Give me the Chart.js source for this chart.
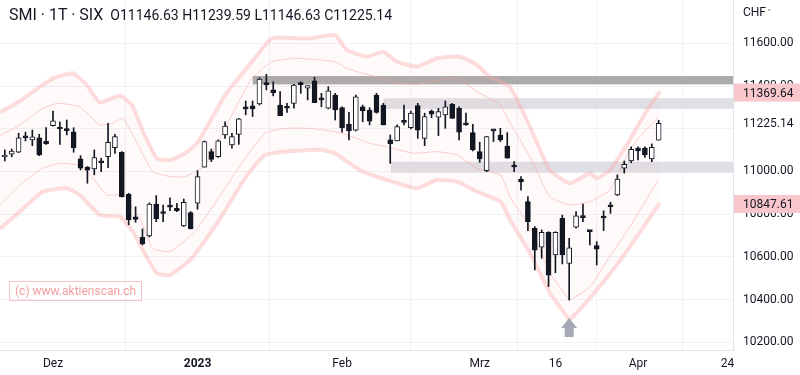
<!DOCTYPE html>
<html>
<head>
<meta charset="utf-8">
<script src="https://cdn.jsdelivr.net/npm/chart.js@4.4.0/dist/chart.umd.min.js"></script>
<style>
  body { margin: 0; background: #fff; font-family: Roboto, "Noto Sans", sans-serif; }
  #rahmen { position: relative; width: 800px; height: 375px; }
  #kopf { position: absolute; left: 9px; top: 5px; color: #131722; white-space: nowrap; }
  #kopf .titel { font-size: 16px; }
  #kopf .ohlc { font-size: 14px; margin-left: 7px; }
  #chf { position: absolute; left: 743px; top: 5px; font-size: 12px; color: #131722; }
  #chf span { font-size: 9px; margin-left: 2px; }
  #wasserzeichen { position: absolute; left: 9px; top: 281px; padding: 1px 5px; border: 1px solid #f6c2c2;
    color: #f29e9e; font-size: 12px; line-height: 16px; }
</style>
</head>
<body>
<div id="rahmen">
  <canvas id="grafik" width="800" height="375"></canvas>
  <div id="kopf"><span class="titel">SMI · 1T · SIX</span><span class="ohlc">O11146.63 H11239.59 L11146.63 C11225.14</span></div>
  <div id="chf">CHF<span>&#x2C5;</span></div>
  <div id="wasserzeichen">(c) www.aktienscan.ch</div>
</div>
<script>
// Handelstage: Index 0 = 1. Dez 2022, erste Kerze bei -7
const ersterIndex = -7;

const eroeffnung = [11068, 11081, 11090, 11158, 11148, 11158, 11141, 11214, 11204, 11194, 11186, 11059, 11021, 11012,
  11041, 11069, 11111, 11090, 10893, 10788, 10692, 10698, 10847, 10805, 10833, 10828, 10745, 10807, 10851, 11020,
  11093, 11069, 11171, 11124, 11174, 11303, 11307, 11316, 11416, 11382, 11311, 11299, 11319, 11407, 11390, 11424,
  11340, 11296, 11358, 11299, 11222, 11193, 11303, 11288, 11358, 11311, 11148, 11143, 11233, 11205, 11308, 11155,
  11283, 11254, 11265, 11315, 11296, 11220, 11182, 11093, 11004, 11194, 11171, 11119, 11023, 10964, 10859, 10734,
  10645, 10715, 10609, 10781, 10570, 10739, 10788, 10721, 10653, 10782, 10840, 10890, 11015, 11049, 11109, 11109,
  11059, 11146.63];
const hoch = [11101, 11105, 11179, 11184, 11194, 11174, 11205, 11283, 11233, 11241, 11205, 11074, 11023, 11101,
  11062, 11226, 11174, 11093, 10898, 10835, 10731, 10853, 10887, 10843, 10877, 10851, 10871, 10812, 11004, 11143,
  11105, 11148, 11233, 11179, 11249, 11330, 11330, 11439, 11455, 11420, 11374, 11319, 11408, 11420, 11402, 11441,
  11366, 11397, 11366, 11303, 11277, 11358, 11311, 11299, 11366, 11319, 11171, 11218, 11311, 11283, 11319, 11273,
  11288, 11296, 11330, 11319, 11303, 11273, 11221, 11137, 11165, 11196, 11202, 11182, 11046, 10976, 10882, 10742,
  10726, 10718, 10718, 10796, 10687, 10812, 10847, 10722, 10671, 10816, 10856, 10984, 11049, 11116, 11116, 11116,
  11129, 11239.59];
const tief = [11049, 11069, 11088, 11143, 11121, 11074, 11127, 11212, 11127, 11171, 11090, 11007, 10945, 10984,
  10999, 11018, 11085, 10880, 10750, 10762, 10656, 10693, 10765, 10765, 10817, 10812, 10742, 10731, 10823, 11020,
  11046, 11066, 11155, 11109, 11127, 11265, 11257, 11311, 11382, 11354, 11261, 11277, 11296, 11366, 11335, 11322,
  11303, 11293, 11241, 11184, 11148, 11190, 11233, 11218, 11273, 11218, 11038, 11143, 11218, 11199, 11155, 11121,
  11252, 11168, 11202, 11249, 11148, 11216, 11096, 11043, 10999, 11140, 11140, 11062, 10999, 10913, 10723, 10539,
  10594, 10461, 10526, 10567, 10398, 10734, 10765, 10656, 10562, 10723, 10804, 10887, 10992, 11041, 11054, 11066,
  11046, 11146.63];
const schluss = [11077, 11096, 11158, 11163, 11162, 11077, 11129, 11237, 11199, 11191, 11111, 11015, 11006, 11065,
  11046, 11137, 11163, 10882, 10773, 10776, 10661, 10847, 10778, 10803, 10839, 10817, 10856, 10731, 10976, 11140,
  11057, 11143, 11213, 11163, 11246, 11293, 11293, 11433, 11405, 11369, 11261, 11296, 11405, 11412, 11402, 11322,
  11335, 11378, 11288, 11205, 11190, 11350, 11283, 11236, 11277, 11218, 11130, 11210, 11230, 11273, 11194, 11257,
  11268, 11280, 11303, 11249, 11184, 11218, 11101, 11059, 11163, 11190, 11148, 11062, 11021, 10951, 10765, 10632,
  10715, 10515, 10715, 10609, 10643, 10792, 10784, 10718, 10636, 10786, 10835, 10964, 11034, 11104, 11096, 11077,
  11113, 11225.14];

// Bänder (Index, Kurs)
const bandObenAussen = [[-7.7, 11277], [-4.8, 11330], [-2.9, 11374], [0, 11436], [2.9, 11460], [4.9, 11405],
  [6.8, 11324], [9.7, 11355], [11.5, 11311], [13.1, 11186], [15.1, 11062], [17, 11054], [19.2, 11085],
  [21.1, 11140], [25, 11358], [28.9, 11514], [31.8, 11624], [35.6, 11624], [37.6, 11624], [41, 11639],
  [42.7, 11569], [45.6, 11538], [48, 11561], [50, 11514], [52.9, 11491], [55.8, 11530], [59.1, 11538],
  [61.6, 11499], [63.5, 11442], [66.4, 11397], [69.3, 11210], [72.2, 11007], [75.1, 10945], [78, 10992],
  [79, 10968], [80.9, 11007], [83.8, 11148], [86.3, 11288], [88.2, 11374]];
const bandObenInnen = [[-7.7, 11168], [-4.8, 11218], [-1.5, 11296], [0.7, 11319], [3.9, 11303], [6.8, 11218],
  [8.7, 11226], [10.2, 11249], [12.6, 11109], [14.5, 10999], [17, 10976], [19.2, 10976], [22.1, 11030],
  [26, 11265], [28.9, 11436], [31.8, 11514], [35.6, 11530], [41, 11514], [42.7, 11483], [45, 11460],
  [48, 11436], [50, 11413], [52.9, 11408], [56.2, 11428], [58.7, 11436], [61.6, 11374], [65, 11311],
  [66.4, 11226], [69.3, 11069], [72.2, 10882], [75.1, 10843], [78, 10859], [80.9, 10913], [83.8, 11101],
  [86.3, 11202], [87.9, 11249]];
const bandUntenInnen = [[-7.7, 10843], [-4.8, 10937], [-1.5, 11015], [1, 11038], [3.5, 11030], [5.4, 10984],
  [7.8, 10890], [10.2, 10890], [12.6, 10781], [14.5, 10640], [17, 10625], [20.6, 10718], [24, 10875],
  [27.9, 11062], [30.8, 11179], [33.7, 11202], [37.1, 11202], [41, 11186], [42.7, 11171], [46.1, 11132],
  [48.5, 11116], [52.3, 11085], [55.8, 11093], [58.7, 11077], [61.6, 11015], [65, 10984], [66.4, 10881],
  [69.3, 10740], [72.2, 10525], [74.7, 10412], [75.1, 10398], [78, 10459], [79.9, 10553], [83.8, 10740],
  [87.9, 10960]];
const bandUntenAussen = [[-7.7, 10731], [-4.8, 10812], [-1.5, 10905], [2, 10921], [3.9, 10890], [6.8, 10796],
  [9.7, 10788], [11.6, 10718], [13.7, 10594], [15.1, 10523], [17, 10515], [20.2, 10594], [24, 10765],
  [27.9, 10968], [30.8, 11077], [34.7, 11096], [39.1, 11101], [41, 11085], [42.7, 11046], [45, 10999],
  [48.5, 10960], [52.9, 10921], [55.8, 10960], [58.7, 10952], [61.6, 10905], [65, 10859], [66.4, 10773],
  [69.3, 10618], [72.2, 10431], [74.7, 10319], [75.1, 10305], [79, 10445], [82.8, 10600], [88.2, 10853]];

// Zonen (Beginn-Index, Ober- und Untergrenze)
const zonenStart = [29, 48, 49.1];
const zonenOben = [11447, 11343, 11046];
const zonenUnten = [11408, 11293, 10994];

// Kursmarken an der Achse
const marken = [11369.64, 11225.14, 10847.61];
const pfeilIndex = 75;

const xTicks = [0, 21, 42, 62, 73, 85, 98];
const xTickTexte = ['Dez', '2023', 'Feb', 'Mrz', '16', 'Apr', '24'];
const yTicks = [10200, 10400, 10600, 10800, 11000, 11200, 11400, 11600];

const schwarz = '#131722';
const koerper = eroeffnung.map((o, k) => ({ x: ersterIndex + k, y: [o, schluss[k]] }));
const dochte = hoch.map((h, k) => ({ x: ersterIndex + k, y: [tief[k], h] }));
const fuellung = eroeffnung.map((o, k) => {
    const c = schluss[k];
    if (Math.abs(c - o) < 8 || c < o) return schwarz;
    return '#ffffff';
});
const punkte = arr => arr.map(p => ({ x: p[0], y: p[1] }));

const zonenFarben = ['#ababab', '#dfe0e5', '#dfe0e5'];
const markenFarben = ['#f9c6cb', '#ffffff', '#f9c6cb'];

const zusatz = {
    id: 'zusatz',
    beforeDatasetsDraw(chart) {
        const { ctx, chartArea, scales: { x, y } } = chart;
        ctx.save();
        zonenStart.forEach((s, k) => {
            const links = x.getPixelForValue(s);
            const oben = y.getPixelForValue(zonenOben[k]);
            const unten = y.getPixelForValue(zonenUnten[k]);
            ctx.fillStyle = zonenFarben[k];
            ctx.fillRect(links, oben, chartArea.right - links, unten - oben);
        });
        ctx.restore();
    },
    afterDraw(chart) {
        const { ctx, chartArea, scales: { x, y } } = chart;
        ctx.save();
        // Pfeil unter dem Tief
        const px = x.getPixelForValue(pfeilIndex);
        const py = y.getPixelForValue(tief[pfeilIndex - ersterIndex]) + 18;
        ctx.fillStyle = '#a5a8b6';
        ctx.beginPath();
        ctx.moveTo(px, py);
        ctx.lineTo(px + 8, py + 10);
        ctx.lineTo(px - 8, py + 10);
        ctx.closePath();
        ctx.fill();
        ctx.fillRect(px - 4.5, py + 10, 9, 9);
        // Kursmarken
        ctx.font = '12px Roboto, "Noto Sans", sans-serif';
        ctx.textBaseline = 'middle';
        marken.forEach((m, k) => {
            const my = y.getPixelForValue(m);
            ctx.fillStyle = markenFarben[k];
            ctx.fillRect(chartArea.right + 1, my - 9, 800 - chartArea.right, 18);
            ctx.fillStyle = schwarz;
            ctx.fillText(m.toFixed(2), chartArea.right + 10, my + 1);
        });
        ctx.restore();
    }
};

const aussenLinie = 'rgba(250,170,170,0.4)';
const innenLinie = 'rgba(245,160,160,0.5)';

new Chart(document.getElementById('grafik'), {
    type: 'bar',
    data: {
        datasets: [
            {
                data: koerper, backgroundColor: fuellung, borderColor: schwarz, borderWidth: 1,
                borderSkipped: false, barThickness: 5, minBarLength: 2, grouped: false, order: 0
            },
            {
                data: dochte, backgroundColor: schwarz, borderWidth: 0, barThickness: 1,
                grouped: false, order: 1
            },
            {
                type: 'line', data: punkte(bandObenAussen), borderColor: aussenLinie,
                borderWidth: 4, pointRadius: 0, tension: 0.15, fill: false, order: 2
            },
            {
                type: 'line', data: punkte(bandUntenAussen), borderColor: aussenLinie,
                borderWidth: 4, pointRadius: 0, tension: 0.15, fill: '-1',
                backgroundColor: 'rgba(255,160,160,0.05)', order: 3
            },
            {
                type: 'line', data: punkte(bandObenInnen), borderColor: innenLinie,
                borderWidth: 1, pointRadius: 0, tension: 0.15, fill: false, order: 4
            },
            {
                type: 'line', data: punkte(bandUntenInnen), borderColor: innenLinie,
                borderWidth: 1, pointRadius: 0, tension: 0.15, fill: false, order: 5
            }
        ]
    },
    options: {
        responsive: false,
        animation: false,
        layout: { padding: 0 },
        plugins: { legend: { display: false }, tooltip: { enabled: false } },
        scales: {
            x: {
                type: 'linear', min: -7.7, max: 98.8, offset: false,
                afterBuildTicks: s => { s.ticks = xTicks.map(v => ({ value: v })); },
                afterFit: s => { s.height = 25; s.paddingLeft = 0; s.paddingRight = 0; },
                grid: { color: '#f0f2f7', drawTicks: false },
                border: { color: '#e0e3eb' },
                ticks: {
                    autoSkip: false, maxRotation: 0, padding: 7, color: schwarz,
                    font: c => ({ size: 12, family: 'Roboto', weight: c.tick && c.tick.value === 21 ? 'bold' : 'normal' }),
                    callback: v => xTickTexte[xTicks.indexOf(v)]
                }
            },
            y: {
                position: 'right', min: 10164, max: 11803,
                afterBuildTicks: s => { s.ticks = yTicks.map(v => ({ value: v })); },
                afterFit: s => { s.width = 67; s.paddingTop = 0; s.paddingBottom = 0; },
                grid: { color: '#f0f2f7', drawTicks: false },
                border: { color: '#e0e3eb' },
                ticks: {
                    padding: 10, color: schwarz, font: { size: 12, family: 'Roboto' },
                    callback: v => v.toFixed(2)
                }
            }
        }
    },
    plugins: [zusatz]
});
</script>
</body>
</html>
